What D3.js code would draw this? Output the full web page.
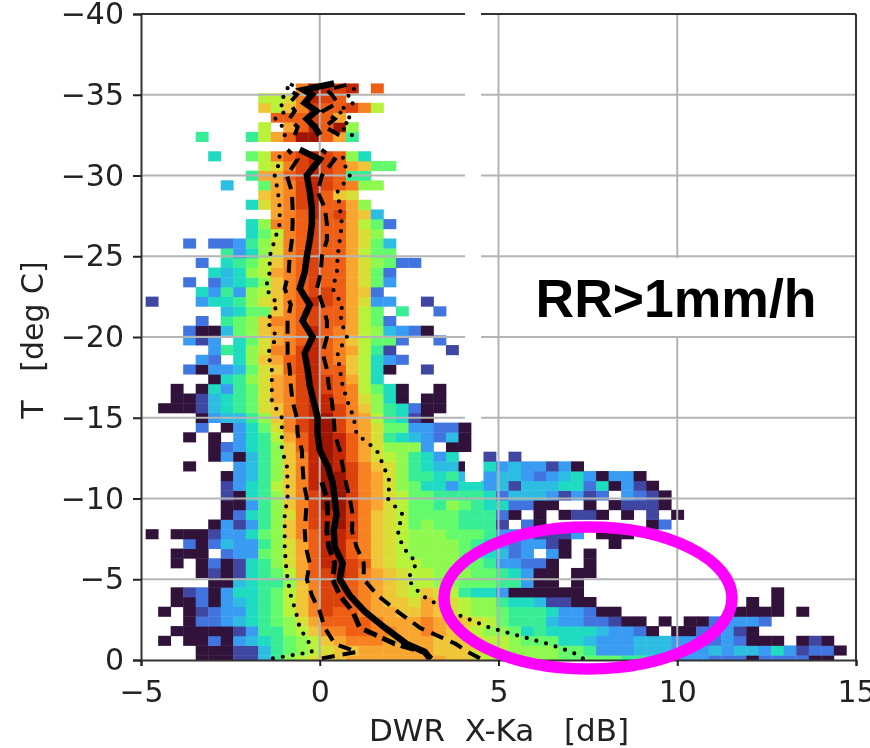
<!DOCTYPE html>
<html>
<head>
<meta charset="utf-8">
<script src="https://cdn.jsdelivr.net/npm/d3@7"></script>
<style>
  html, body { margin: 0; padding: 0; background: #fff; }
  svg { display: block; filter: blur(0.6px); }
  text { font-family: "DejaVu Sans", sans-serif; fill: #222; white-space: pre; }
</style>
</head>
<body>
<div id="chart"></div>
<script>
// axis ticks
var dwrTicks = [-5, 0, 5, 10, 15];
var tempTicks = [0, -5, -10, -15, -20, -25, -30, -35, -40];

// log-frequency per cell. one string per 0.6 deg row, bottom row first,
// one letter per 0.35 dB column, "." = empty. a = lowest ... s = highest
var freqLetters = "abcdefghijklmnopqrs";
var freqRows = [
  "....aaabbe gijkllmmmm mmmmllkjii iiihhhhhgg fedddcccac cccaa",
  "....aaabbe ghijkllmmm mmmlllkjji iiihhgddde eedddedeed fdbcca",
  ".a.aacadef ghijlmnnnm mmmlllkjji hhhffeddde eeddccdcaa a.aba",
  "..aaaaabdg gijlnnoonn mmnmlkjiih fgffffeddc a.aaccdba",
  "...accdefg hikmoooonm mmnmllkjhg ggeddccbaa .a.aacdddc",
  ".a.abcddfg hjlnpoonmm llmlkjiihg ggfddcaa.. .......aaa a.a",
  "..aacadefg hjlnpponml lkmlkjiigf febbaa.... ........a. a",
  "..abcadffg hjlnpponml kjlkjgffda aaaaa..... .......... a",
  ".....aaefg gilnpponml kjjiihhhgg daa.a",
  "....ababfg hjmopqpnml kjjiiihhgf daa.aa",
  "..a.acabfg ikmoqqpolk jjiiihhgdd cca..a",
  "..aaa.cddh ikmoqqonlk jiiiihgfec d.da.a",
  "...caceddg ikmoqqonlk jiiiihgfdc ddba...a",
  "a.aaabddfh ilnoqqpnlk jiiihhhgdd dbbbd.aaa",
  ".....adbdg ilnpqrpnlk jhihhgggb. ca........ ac",
  "......acfg iknpqrpnlk jhhhhgggca .a.abba.a. b.a",
  "......aadg ilnprrpnmk jhhgihgffc caa..a.abb ba",
  "......bafg ilnprrpnmk jhhggggfce eedbdbc.dc ba",
  "......bdfg jlnqrrpnmk ihffdffdeb eeeffcfadb a",
  "......adeg ilnqrrpnmk iggfge.dee dcdefdadda",
  "...a...deg ilnqrqpnlk igfeea.fde ddbda",
  ".....adaeg ilnqrqomkj igfdf..b.b",
  ".....acdfg iloqrqomki iid.aa",
  "...a.a.dfg jmoqrqomkg fedcea",
  "....c.adfh knpqrpnmkh hddcca",
  "....adeegi lnpqrpnmjg fba",
  ".aaabefghk lnpqqpnlig fcaa",
  "..aabefghk mnpqqonkif a.aa",
  "..a.afdghk mnpqponjhf a..a",
  ".....afgik mnpqpomjf",
  "...caddehk lopqooljfa ..b",
  "....dc.fil mopqonljfd c",
  ".....dgfik nnpqonmjgb ....b",
  "...dbd.fhk mnoqonljhh c..c",
  "...caaehil mnoqonmjie dca",
  "....c.ghil nnopoomjhc",
  "......efhh lnopoomjh. g..c",
  "b...dffgik lnoqpomkdd ..b",
  "....fdgdij lnoppomlc",
  "...c.cefgi lnopoomkhd",
  ".....fefij mnopoomkhc",
  "....c.fghj lnopoomkih cc",
  "......gdfi knopoomjhh",
  "...c.ccdgi knopoomkhe",
  "........fh jnopoomki",
  "........fi nnopoomjhc",
  ".......... mnoqopmle",
  "........fk mnpqoomi",
  ".........l mnpqolk",
  "......e..h mnpqponii",
  "........gm mopqpogg",
  ".........j knpqpomlhh",
  ".....f..hj nopqpoif",
  "",
  "....g...gj morromg",
  ".........j .moqori",
  ".......... ooopom",
  ".........l jlnpoopnj",
  ".........j jknqpo",
  ".......... ..nrqpq.o"
];

// turbo colour stops, d3's own turbo starts too close to black
var turboStops = ["#30123b", "#4662d7", "#36aaf9", "#1ae4b6", "#72fe5e", "#c8ef34", "#faba39", "#f66b19", "#cb2a04", "#7a0403"];

// temperature levels of the percentile lines
var tempLevels = [-0.1, -0.5, -1, -2, -3, -4, -5, -6, -7, -8, -9, -10, -11, -12, -13, -14, -15, -16, -17, -18,
  -19, -20, -21, -22, -23, -24, -25, -26, -27, -28, -29, -30, -31, -31.6, -32, -32.5, -33, -33.5, -34, -34.5, -35, -35.3, -35.7];
var medianDwr = [3.08, 2.94, 2.43, 1.82, 1.26, .84, .56, .64, .42, .39, .47, .42, .36, .22, 0, -.06, -.06, -.17, -.28, -.34,
  -.42, -.2, -.48, -.28, -.56, -.42, -.36, -.28, -.22, -.22, -.28, -.36, 0, -.56, null, 0, -.14, -.36, -.1, -.42, -.22, -.45, .4];
var innerDwr = [3.13, 2.91, 2.1, 1.12, .92, .56, .36, .42, .25, .2, .22, .2, .06];
var q1Dwr = [.06, 1.04, .42, .14, 0, -.22, -.36, -.28, -.39, -.42, -.39, -.36, -.45, -.48, -.5, -.62, -.64, -.76, -.81, -.84,
  -.9, -.9, -.9, -.81, -.98, -.87, -.84, -.78, -.76, -.76, -.78, -.92, -.62, -.9, null, -.7, -.62, -.85, -.7, -.84, -.64, -.85, -.76];
var q3Dwr = [4.48, 4.14, 3.8, 2.8, 2.18, 1.62, 1.23, 1.23, 1.03, .9, .92, .84, .73, .64, .56, .42, .39, .34, .25, .2,
  .08, .2, .2, .08, -.08, .03, .06, .2, .2, .14, -.06, .06, .42, .05, null, .55, .14, .42, .1, .5, .34, .2, .9];
var p10Dwr = [-1.31, -.22, -.28, -.56, -.67, -.81, -.9, -.95, -.98, -.98, -.98, -.9, -.9, -.92, -1.06, -1.06, -1.06, -1.34, -1.34, -1.34,
  -1.45, -1.2, -1.48, -1.17, -1.51, -1.4, -1.4, -1.26, -1.12, -1.12, -1.17, -1.26, -1.1, -1.2, null, -.98, -1.03, -1.25, -.95, -1.12, -.98, -.95, -.76];
var p90Dwr = [7.36, 7.05, 6.38, 4.76, 3.64, 2.85, 2.46, 2.71, 2.32, 2.18, 2.32, 1.9, 1.96, 1.79, 1.59, 1.03, .95, .78, .64, .56,
  .5, .76, .59, .62, .36, .48, .5, .56, .62, .56, .5, .84, .62, .8, null, .9, .6, .9, .5, .95, .78, .95, 1];

var binDwr = 0.35, firstDwrEdge = -4.87;
var binTemp = 0.6, firstTempEdge = 0.3;

var svgWidth = 870;
var svgHeight = 748;
var margin = {top: 14, right: 14, bottom: 88, left: 141};
var width = svgWidth - margin.left - margin.right;
var height = svgHeight - margin.top - margin.bottom;

var svg = d3.select("#chart").append("svg")
  .attr("width", svgWidth)
  .attr("height", svgHeight);

var chart = svg.append("g")
  .attr("transform", "translate(" + margin.left + "," + margin.top + ")");

var x = d3.scaleLinear().domain([-5, 15]).range([0, width]);
var y = d3.scaleLinear().domain([-40, 0]).range([0, height]);
var color = d3.scaleLinear()
  .domain(turboStops.map(function(c, i) { return i / (turboStops.length - 1); }))
  .range(turboStops);

svg.append("defs").append("clipPath").attr("id", "plot")
  .append("rect").attr("width", width).attr("height", height);

// cells
var cells = [];
freqRows.forEach(function(row, r) {
  row.replace(/ /g, "").split("").forEach(function(ch, c) {
    if (ch === ".") return;
    cells.push({c: c, r: r, f: Math.pow(freqLetters.indexOf(ch) / 18, 0.9)});
  });
});

chart.append("g").attr("clip-path", "url(#plot)")
  .selectAll("rect").data(cells).enter().append("rect")
  .attr("x", function(d) { return x(firstDwrEdge + d.c * binDwr); })
  .attr("width", x(binDwr) - x(0) + 0.4)
  .attr("y", function(d) { return y(-(firstTempEdge + d.r * binTemp)); })
  .attr("height", y(0) - y(-binTemp) + 0.4)
  .attr("fill", function(d) { return color(d.f); });

// grid sits on top of the cells
chart.append("g").selectAll("line").data(dwrTicks.slice(1, -1)).enter().append("line")
  .attr("x1", x).attr("x2", x).attr("y1", 0).attr("y2", height)
  .attr("stroke", "#b4b4b4").attr("stroke-width", 2);
chart.append("g").selectAll("line").data(tempTicks.slice(1, -1)).enter().append("line")
  .attr("y1", y).attr("y2", y).attr("x1", 0).attr("x2", width)
  .attr("stroke", "#b4b4b4").attr("stroke-width", 2);

// frame, left and bottom come from the axes
chart.append("line").attr("x1", 0).attr("x2", width).attr("y1", 0).attr("y2", 0)
  .attr("stroke", "#333").attr("stroke-width", 2);
chart.append("line").attr("x1", width).attr("x2", width).attr("y1", 0).attr("y2", height)
  .attr("stroke", "#333").attr("stroke-width", 2);

// white strip pasted over the upper part of the figure
svg.append("rect").attr("x", 465).attr("y", 8).attr("width", 16).attr("height", 411).attr("fill", "#fff");

// percentile lines
var line = d3.line()
  .defined(function(d) { return d.v != null; })
  .x(function(d) { return x(d.v); })
  .y(function(d) { return y(d.t); });

function drawLine(values, strokeWidth, dash, cap) {
  var pts = tempLevels.map(function(t, i) { return {t: t, v: values[i]}; });
  chart.append("path").datum(pts)
    .attr("d", line)
    .attr("fill", "none")
    .attr("stroke", "#000")
    .attr("stroke-width", strokeWidth)
    .attr("stroke-dasharray", dash)
    .attr("stroke-linecap", cap)
    .attr("clip-path", "url(#plot)");
}

drawLine(p10Dwr, 4.2, "0 10", "round");
drawLine(p90Dwr, 4.2, "0 10", "round");
drawLine(q1Dwr, 4, "13 8", "butt");
drawLine(q3Dwr, 4, "13 8", "butt");
drawLine(innerDwr, 5, "14 6", "butt");
drawLine(medianDwr, 6.5, null, "butt");

// second white patch, over the cells
svg.append("rect").attr("x", 465).attr("y", 452).attr("width", 16).attr("height", 30).attr("fill", "#fff");

// axes
var xAxis = d3.axisBottom(x).tickValues(dwrTicks).tickSize(6).tickPadding(15)
  .tickFormat(function(d) { return String(d).replace("-", "\u2212"); });
var yAxis = d3.axisLeft(y).tickValues(tempTicks).tickSize(8).tickPadding(9)
  .tickFormat(function(d) { return String(d).replace("-", "\u2212"); });

var gx = chart.append("g").attr("transform", "translate(0," + height + ")").call(xAxis);
var gy = chart.append("g").call(yAxis);
[gx, gy].forEach(function(g) {
  g.selectAll(".domain").attr("stroke", "#333").attr("stroke-width", 2);
  g.selectAll(".tick line").attr("stroke", "#222").attr("stroke-width", 2);
  g.selectAll("text").attr("font-size", 30).attr("font-family", "DejaVu Sans").attr("fill", "#222");
});

svg.append("text")
  .attr("x", 499).attr("y", 741)
  .attr("text-anchor", "middle")
  .attr("font-size", 31)
  .text("DWR  X-Ka   [dB]");

svg.append("text")
  .attr("transform", "translate(43,340) rotate(-90)")
  .attr("text-anchor", "middle")
  .attr("font-size", 30)
  .text("T   [deg C]");

// highlight ring
svg.append("ellipse")
  .attr("cx", 588).attr("cy", 598).attr("rx", 144).attr("ry", 71)
  .attr("fill", "none").attr("stroke", "#ff00ff").attr("stroke-width", 11.5);

// label box
svg.append("rect").attr("x", 517).attr("y", 258).attr("width", 325).attr("height", 78).attr("fill", "#fff");
svg.append("text")
  .attr("x", 676).attr("y", 317)
  .attr("text-anchor", "middle")
  .style("font-family", "'Liberation Sans', Arial, sans-serif")
  .style("font-weight", "bold")
  .style("font-size", "53.5px")
  .style("fill", "#000")
  .text("RR>1mm/h");
</script>
</body>
</html>
